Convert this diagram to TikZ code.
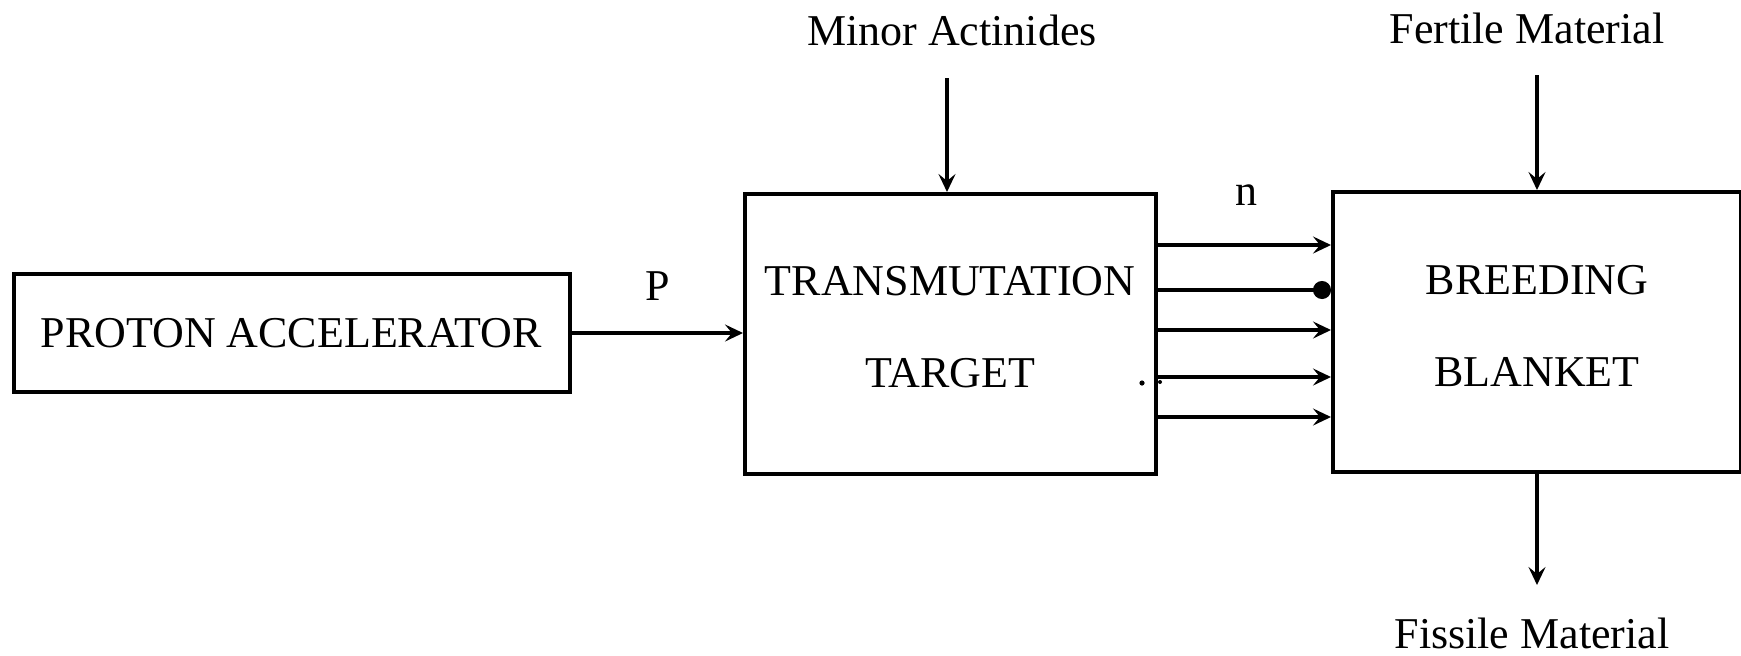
\documentclass[tikz,border=0pt]{standalone}
\usepackage{fontspec}
\setmainfont{Liberation Serif}
\usetikzlibrary{arrows.meta}
\begin{document}
\begin{tikzpicture}[x=0.5pt,y=-0.5pt,
  box/.style={draw,line width=2pt,inner sep=0pt,rectangle},
  txt/.style={font=\fontsize{22}{46}\selectfont,inner sep=0pt,align=center},
  arr/.style={line width=2pt,-{Stealth[length=9pt,width=8.5pt,inset=3.5pt]}},
  dotarr/.style={line width=2pt,-{Circle[length=9pt]}}]
\useasboundingbox (0,0) rectangle (1741,655);
% boxes
\node[box,minimum width=278pt,minimum height=59pt] (pa) at (292,333) {};
\node[txt] (patxt) at (291,333) {PROTON ACCELERATOR};
\node[box,minimum width=205.5pt,minimum height=140pt] (tt) at (950.5,334) {};
\node[txt] (tttxt) at (950,327) {TRANSMUTATION\\TARGET};
\node[box,minimum width=204pt,minimum height=140pt] (bb) at (1537,332) {};
\node[txt] (bbtxt) at (1537,326) {BREEDING\\BLANKET};
% labels
\node[txt] (ma) at (952,30) {Minor Actinides};
\node[txt] (fm) at (1527,28) {Fertile Material};
\node[txt] (fi) at (1532,633) {Fissile Material};
\node[txt] (p) at (658,286) {P};
\node[txt] (n) at (1246,195) {n};
% connectors
\draw[arr] (pa.east) -- (pa.east -| tt.west);
\coordinate (mas) at (947,78);
\draw[arr] (mas) -- (mas |- tt.north);
\coordinate (fms) at (1537,75);
\draw[arr] (fms) -- (bb.north);
\coordinate (fie) at (1537,585);
\draw[arr] (bb.south) -- (fie);
\coordinate (y1) at (0,245);
\coordinate (y2) at (0,290);
\coordinate (y3) at (0,330);
\coordinate (y4) at (0,377);
\coordinate (y5) at (0,417);
\draw[arr] (tt.east |- y1) -- (bb.west |- y1);
\draw[dotarr] (tt.east |- y2) -- (bb.west |- y2);
\draw[arr] (tt.east |- y3) -- (bb.west |- y3);
\draw[arr] (tt.east |- y4) -- (bb.west |- y4);
\draw[arr] (tt.east |- y5) -- (bb.west |- y5);
% stray dots
\fill (1142,383) circle (1.3pt);
\fill (1160,382) circle (1pt);
\end{tikzpicture}
\end{document}
